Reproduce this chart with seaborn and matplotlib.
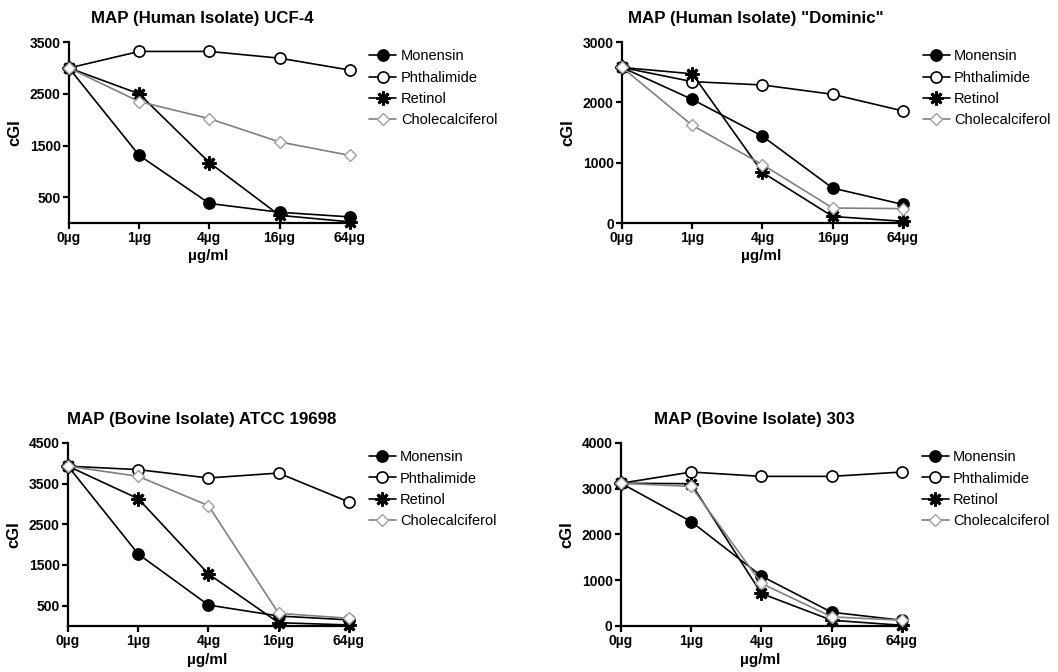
import numpy as np
import pandas as pd
import seaborn as sns
from matplotlib import pyplot as plt

DOSE_LABELS = ["0µg", "1µg", "4µg", "16µg", "64µg"]
COMPOUNDS = ["Monensin", "Phthalimide", "Retinol", "Cholecalciferol"]

TITLES = [
    "MAP (Human Isolate) UCF-4",
    'MAP (Human Isolate) "Dominic"',
    "MAP (Bovine Isolate) ATCC 19698",
    "MAP (Bovine Isolate) 303",
]

# cGI readings per panel, one list per compound (order of COMPOUNDS)
UCF4_MONENSIN = [3000, 1310, 380, 210, 120]
UCF4_PHTHALIMIDE = [3000, 3320, 3320, 3190, 2960]
UCF4_RETINOL = [3000, 2500, 1170, 150, 25]
UCF4_CHOLECALCIFEROL = [3000, 2350, 2020, 1570, 1310]

DOMINIC_MONENSIN = [2580, 2050, 1440, 580, 310]
DOMINIC_PHTHALIMIDE = [2580, 2345, 2290, 2135, 1860]
DOMINIC_RETINOL = [2580, 2475, 840, 110, 30]
DOMINIC_CHOLECALCIFEROL = [2580, 1620, 970, 250, 240]

ATCC_MONENSIN = [3930, 1770, 515, 245, 150]
ATCC_PHTHALIMIDE = [3930, 3845, 3640, 3760, 3050]
ATCC_RETINOL = [3930, 3130, 1280, 80, 25]
ATCC_CHOLECALCIFEROL = [3930, 3680, 2960, 310, 190]

B303_MONENSIN = [3120, 2280, 1090, 300, 125]
B303_PHTHALIMIDE = [3120, 3365, 3270, 3270, 3365]
B303_RETINOL = [3120, 3110, 710, 125, 15]
B303_CHOLECALCIFEROL = [3120, 3050, 930, 200, 125]

PANEL_DATA = [
    [UCF4_MONENSIN, UCF4_PHTHALIMIDE, UCF4_RETINOL, UCF4_CHOLECALCIFEROL],
    [DOMINIC_MONENSIN, DOMINIC_PHTHALIMIDE, DOMINIC_RETINOL, DOMINIC_CHOLECALCIFEROL],
    [ATCC_MONENSIN, ATCC_PHTHALIMIDE, ATCC_RETINOL, ATCC_CHOLECALCIFEROL],
    [B303_MONENSIN, B303_PHTHALIMIDE, B303_RETINOL, B303_CHOLECALCIFEROL],
]

Y_MAX = [3500, 3000, 4500, 4000]
Y_TICKS = [
    [500, 1500, 2500, 3500],
    [0, 1000, 2000, 3000],
    [500, 1500, 2500, 3500, 4500],
    [0, 1000, 2000, 3000, 4000],
]

AX_RECTS = [
    [0.0652, 0.668, 0.270, 0.2693],
    [0.5880, 0.668, 0.270, 0.2693],
    [0.0643, 0.0685, 0.270, 0.2723],
    [0.5870, 0.0685, 0.270, 0.2723],
]

STYLES = {
    "Monensin": dict(color="black", marker="o", mfc="black", mec="black", ms=8, mew=1.2),
    "Phthalimide": dict(color="black", marker="o", mfc="white", mec="black", ms=8, mew=1.2),
    "Retinol": dict(color="black", marker=(8, 2, 0), mfc="black", mec="black", ms=10, mew=2.0),
    "Cholecalciferol": dict(color="#808080", marker="D", mfc="white", mec="#a0a0a0", ms=6.5, mew=1.0),
}


def draw_panel(ax, title, series, y_max, y_ticks):
    x = np.arange(len(DOSE_LABELS))
    for name, values in zip(COMPOUNDS, series):
        df = pd.DataFrame({"dose": x, "cGI": values})
        sns.lineplot(data=df, x="dose", y="cGI", ax=ax, label=name, lw=1.2,
                     clip_on=False, zorder=3, **STYLES[name])

    ax.set_xlim(0, 4.07)
    ax.set_ylim(0, y_max)
    ax.set_xticks(x)
    ax.set_xticklabels(DOSE_LABELS)
    ax.set_yticks(y_ticks)
    for side in ("top", "right"):
        ax.spines[side].set_visible(False)
    for side in ("left", "bottom"):
        ax.spines[side].set_linewidth(1.6)
        ax.spines[side].set_color("black")
    ax.tick_params(axis="both", direction="out", length=4, width=1.6, labelsize=10, pad=2,
                   color="black", labelcolor="black")
    for lbl in ax.get_xticklabels() + ax.get_yticklabels():
        lbl.set_fontweight("bold")

    ax.set_title(title, fontsize=12.2, fontweight="bold", x=0.468, pad=14, color="black")
    ax.set_xlabel("µg/ml", fontsize=11, fontweight="bold", color="black")
    ax.set_ylabel("cGI", fontsize=12, fontweight="bold", color="black")
    ax.xaxis.set_label_coords(0.486, -0.145)
    ax.yaxis.set_label_coords(-0.164, 0.5)

    ax.legend(loc="upper left", bbox_to_anchor=(1.052, 0.96), frameon=False,
              fontsize=10.5, handlelength=1.85, handletextpad=0.3,
              labelspacing=0.5, borderpad=0, borderaxespad=0, labelcolor="black")


def main():
    sns.set_theme(style="ticks")
    plt.rcParams["font.family"] = ["Liberation Sans", "DejaVu Sans"]
    plt.rcParams["text.color"] = "black"

    fig = plt.figure(figsize=(10.58, 6.72), dpi=100)
    for rect, title, series, y_max, y_ticks in zip(AX_RECTS, TITLES, PANEL_DATA, Y_MAX, Y_TICKS):
        ax = fig.add_axes(rect)
        draw_panel(ax, title, series, y_max, y_ticks)

    fig.savefig("out.png", dpi=100)
    plt.close(fig)


if __name__ == "__main__":
    main()
